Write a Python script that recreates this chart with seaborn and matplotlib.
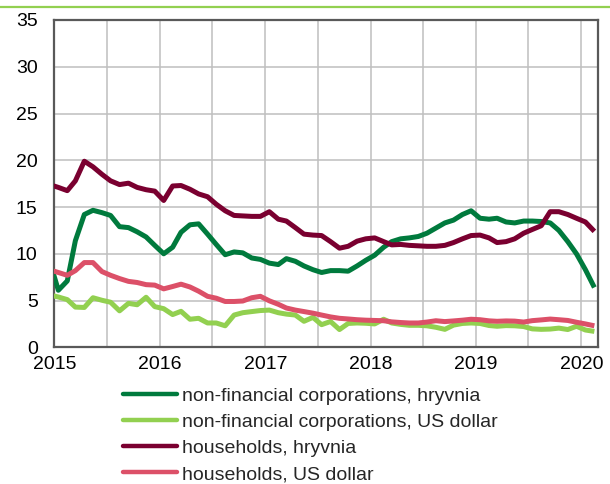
import numpy as np
import pandas as pd
import matplotlib
matplotlib.use("Agg")
import matplotlib.pyplot as plt
import matplotlib.dates as mdates
from matplotlib.lines import Line2D
import seaborn as sns

# ---- data (monthly, %), Dec 2014 .. Feb 2020 ----
months = pd.date_range("2014-12-01", "2020-02-01", freq="MS")

nfc_uah = [9.3, 6.1, 7.1, 11.4, 14.2, 14.65, 14.4, 14.1, 12.9, 12.8, 12.35, 11.8, 10.9,
           10.0, 10.7, 12.3, 13.1, 13.2, 12.1, 11.0, 9.9, 10.2, 10.1, 9.55, 9.4,
           9.0, 8.85, 9.48, 9.2, 8.7, 8.3, 8.0, 8.2, 8.2, 8.14, 8.7, 9.3,
           9.85, 10.7, 11.3, 11.6, 11.7, 11.85, 12.2, 12.75, 13.3, 13.6, 14.2, 14.6,
           13.8, 13.7, 13.8, 13.4, 13.3, 13.5, 13.5, 13.45, 13.3, 12.5, 11.3, 10.0,
           8.3, 6.4]
nfc_usd = [5.6, 5.38, 5.1, 4.3, 4.26, 5.3, 5.03, 4.82, 3.9, 4.7, 4.55, 5.35, 4.35,
           4.13, 3.5, 3.85, 3.0, 3.1, 2.6, 2.6, 2.3, 3.45, 3.7, 3.82, 3.93,
           3.98, 3.7, 3.55, 3.45, 2.78, 3.2, 2.42, 2.76, 1.9, 2.55, 2.6, 2.57,
           2.5, 3.0, 2.6, 2.45, 2.35, 2.35, 2.3, 2.14, 1.92, 2.37, 2.55, 2.6,
           2.55, 2.33, 2.25, 2.32, 2.3, 2.22, 1.97, 1.92, 1.95, 2.05, 1.9, 2.25,
           1.85, 1.7]
hh_uah = [17.4, 17.1, 16.75, 17.8, 19.9, 19.3, 18.5, 17.8, 17.4, 17.55, 17.1, 16.85, 16.7,
          15.7, 17.25, 17.3, 16.9, 16.4, 16.1, 15.3, 14.6, 14.1, 14.05, 14.0, 14.0,
          14.5, 13.7, 13.5, 12.8, 12.1, 12.0, 11.95, 11.3, 10.6, 10.8, 11.35, 11.6,
          11.7, 11.3, 10.95, 11.0, 10.9, 10.85, 10.8, 10.8, 10.9, 11.2, 11.6, 11.95,
          12.0, 11.7, 11.2, 11.3, 11.6, 12.2, 12.6, 13.0, 14.5, 14.5, 14.2, 13.8,
          13.4, 12.4]
hh_usd = [8.3, 8.0, 7.7, 8.2, 9.06, 9.06, 8.1, 7.7, 7.35, 7.05, 6.93, 6.7, 6.65,
          6.25, 6.5, 6.75, 6.45, 6.0, 5.45, 5.25, 4.9, 4.9, 4.95, 5.3, 5.45,
          4.97, 4.6, 4.2, 3.98, 3.82, 3.65, 3.45, 3.25, 3.1, 3.03, 2.95, 2.9,
          2.87, 2.84, 2.72, 2.65, 2.6, 2.6, 2.7, 2.84, 2.75, 2.82, 2.9, 3.0,
          2.95, 2.83, 2.78, 2.82, 2.8, 2.7, 2.85, 2.93, 3.02, 2.95, 2.87, 2.68,
          2.5, 2.3]

series_names = ["non-financial corporations, hryvnia",
                "non-financial corporations, US dollar",
                "households, hryvnia",
                "households, US dollar"]
series_colors = ["#007A3D", "#92D050", "#7A0030", "#DC5068"]
y_ticks = [0, 5, 10, 15, 20, 25, 30, 35]

dates = months + pd.Timedelta(days=14)
frames = []
for name, vals in zip(series_names, [nfc_uah, nfc_usd, hh_uah, hh_usd]):
    frames.append(pd.DataFrame({"date": dates, "value": vals, "series": name}))
df = pd.concat(frames, ignore_index=True)

sns.set_style("white")
plt.rcParams["font.family"] = ["Liberation Sans", "DejaVu Sans"]

fig = plt.figure(figsize=(6.1, 4.84), dpi=100)
L, R, T, B = 54.3, 598.4, 20.0, 347.3
ax = fig.add_axes([L / 610, 1 - B / 484, (R - L) / 610, (B - T) / 484])

sns.lineplot(data=df, x="date", y="value", hue="series", hue_order=series_names,
             palette=dict(zip(series_names, series_colors)), linewidth=3.6,
             ax=ax, legend=False, zorder=3)
for ln in ax.lines:
    ln.set_solid_capstyle("butt")
    ln.set_solid_joinstyle("round")

ax.set_xlim(pd.Timestamp("2015-01-01"), pd.Timestamp("2020-02-29"))
ax.set_ylim(0, 35)
ax.set_yticks(y_ticks)
ax.xaxis.set_major_locator(mdates.YearLocator())
ax.xaxis.set_major_formatter(mdates.DateFormatter("%Y"))
ax.xaxis.set_minor_locator(mdates.MonthLocator(bymonth=7))
ax.set_xlabel("")
ax.set_ylabel("")

ax.grid(True, which="both", color="#BFBFBF", linewidth=1.1, zorder=0)
ax.set_axisbelow(True)
for sp in ax.spines.values():
    sp.set_color("#595959")
    sp.set_linewidth(1.6)
    sp.set_visible(True)
ax.tick_params(axis="both", which="both", direction="in", color="#595959",
               width=1.2, length=3, labelsize=14, labelcolor="black")
ax.tick_params(axis="y", pad=12)
ax.tick_params(axis="x", pad=6)

handles = [Line2D([], [], color=c, lw=3.2, solid_capstyle="round") for c in series_colors]
fig.legend(handles, series_names, loc="upper left",
           bbox_to_anchor=(123.3 / 610, 1 - 387 / 484), bbox_transform=fig.transFigure,
           frameon=False, borderpad=0, borderaxespad=0, handlelength=2.75,
           handletextpad=0.25, labelspacing=0.44, fontsize=14)

fig.add_artist(Line2D([0, 1], [1 - 6.7 / 484] * 2, transform=fig.transFigure,
                      color="#92D050", linewidth=1.6))

fig.savefig("out.png", dpi=100)
